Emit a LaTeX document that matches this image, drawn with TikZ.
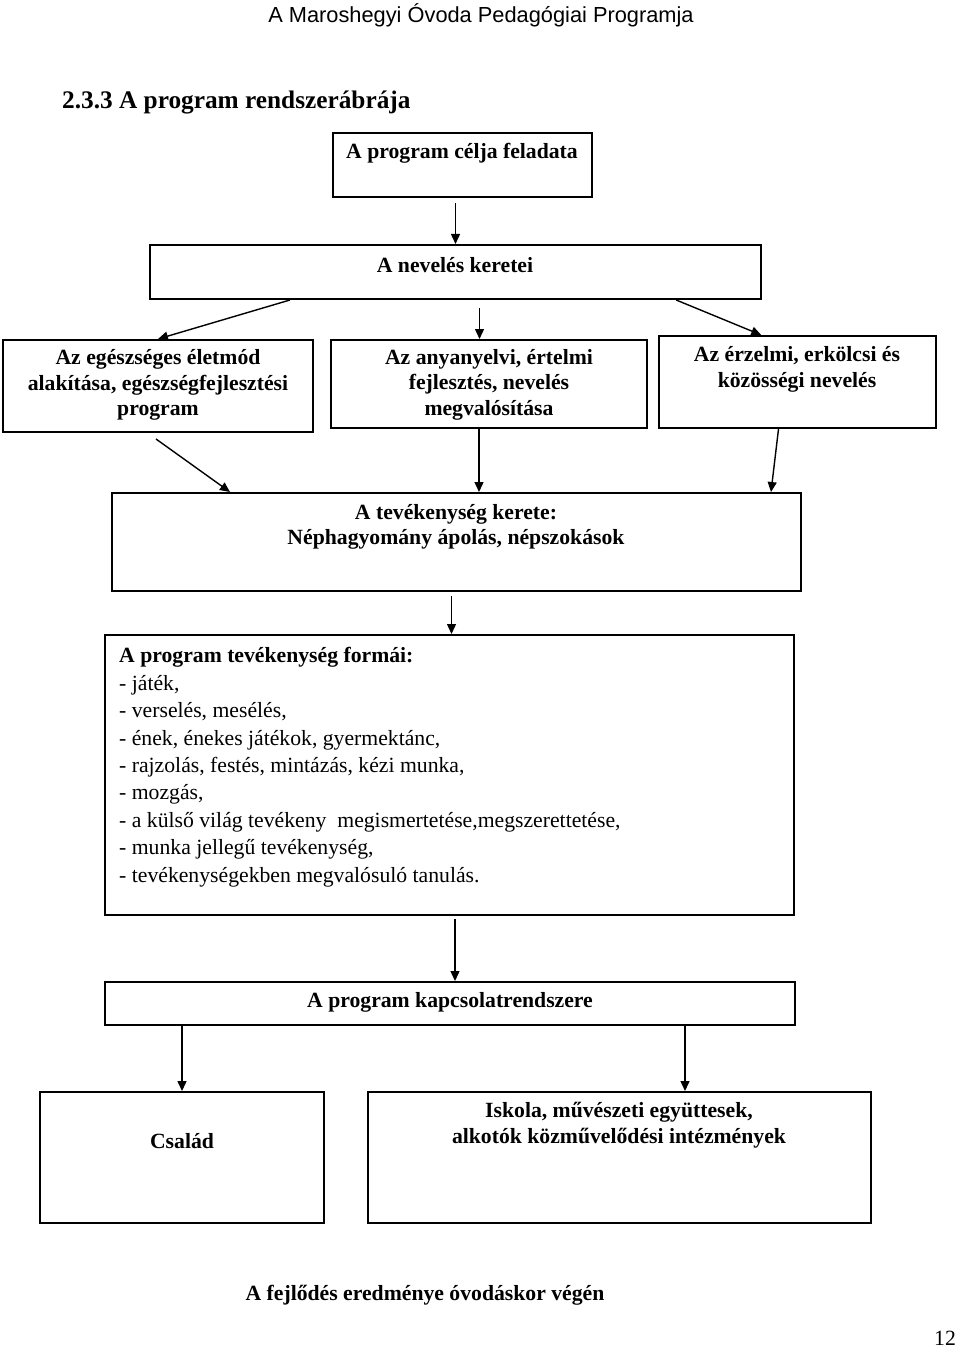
\documentclass[tikz,border=0pt]{standalone}
\usepackage{fontspec}
\setmainfont{Liberation Serif}
\newfontfamily\fejlecbetu{Liberation Sans}
\usetikzlibrary{arrows.meta,calc,positioning}

\tikzset{
  doboz/.style={draw,line width=2pt,inner sep=0pt},
  felirat/.style={font=\fontsize{21.7}{25.5}\selectfont\bfseries,align=center,inner sep=0pt},
  lista/.style={font=\fontsize{21.7}{27.4}\selectfont,align=left,inner sep=0pt},
  nyil/.style={line width=1.4pt,-{Triangle[length=10pt,width=9pt]}}
}

\begin{document}
\begin{tikzpicture}[x=1pt,y=-1pt]
\useasboundingbox[fill=white] (0,0) rectangle (960,1348);

% fejlec
\node[font=\fejlecbetu\fontsize{21.8}{24}\selectfont,inner sep=0pt] (fejlec) at (481,15) {A Maroshegyi Óvoda Pedagógiai Programja};
\node[font=\fontsize{25.3}{28}\selectfont\bfseries,anchor=west,inner sep=0pt] (cim) at (62,103) {2.3.3 A program rendszerábrája};

% dobozok
\node[doboz,minimum width=259,minimum height=64] (cel) at (462.5,165) {};
\node[felirat] (celT) at (462,153) {A program célja feladata};

\node[doboz,minimum width=611,minimum height=54] (ker) at (455.5,272) {};
\node[felirat] (kerT) at (455,265) {A nevelés keretei};

\node[doboz,minimum width=310,minimum height=92] (egesz) at (158,386) {};
\node[felirat] (egeszT) at (158,385) {Az egészséges életmód\\alakítása, egészségfejlesztési\\program};

\node[doboz,minimum width=316,minimum height=88] (any) at (489,384) {};
\node[felirat] (anyT) at (489,384.5) {Az anyanyelvi, értelmi\\fejlesztés, nevelés\\megvalósítása};

\node[doboz,minimum width=277,minimum height=92] (erz) at (797.5,382) {};
\node[felirat] (erzT) at (797,369.5) {Az érzelmi, erkölcsi és\\közösségi nevelés};

\node[doboz,minimum width=689,minimum height=98] (tev) at (456.5,542) {};
\node[felirat] (tevT) at (456,527) {A tevékenység kerete:\\Néphagyomány ápolás, népszokások};

\node[doboz,minimum width=689,minimum height=280] (form) at (449.5,775) {};
\node[lista,anchor=base west] (formT) at (119,882) {\textbf{A program tevékenység formái:}\\
- játék,\\
- verselés, mesélés,\\
- ének, énekes játékok, gyermektánc,\\
- rajzolás, festés, mintázás, kézi munka,\\
- mozgás,\\
- a külső világ tevékeny\ \ megismertetése,megszerettetése,\\
- munka jellegű tevékenység,\\
- tevékenységekben megvalósuló tanulás.};

\node[doboz,minimum width=690,minimum height=43] (kapcs) at (450,1003.5) {};
\node[felirat] (kapcsT) at (450,1002) {A program kapcsolatrendszere};

\node[doboz,minimum width=284,minimum height=131] (csal) at (182,1157.5) {};
\node[felirat] (csalT) at (182,1141) {Család};

\node[doboz,minimum width=503,minimum height=131] (isk) at (619.5,1157.5) {};
\node[felirat] (iskT) at (619,1125) {Iskola, művészeti együttesek,\\alkotók közművelődési intézmények};

\node[felirat] (ered) at (425,1295) {A fejlődés eredménye óvodáskor végén};
\node[font=\fontsize{21.7}{24}\selectfont,inner sep=0pt] (oldal) at (945,1338) {12};

% nyilak
\draw[nyil] ([yshift=-5pt]cel.south -| ker.north) -- (ker.north);

\draw[nyil] ($(ker.south west)!0.23!(ker.south east)$) -- (egesz.north);
\coordinate (k2) at ($(ker.south)+(24,8)$);
\draw[nyil] (k2) -- (k2 |- any.north);
\draw[nyil] ($(ker.south west)!0.86!(ker.south east)$) -- ($(erz.north west)!0.37!(erz.north east)$);

\draw[nyil] ($(egesz.south)+(-2,6)$) -- ($(tev.north west)+(119,0)$);
\coordinate (a2) at ($(any.south)+(-10,0)$);
\draw[nyil] (a2) -- (a2 |- tev.north);
\draw[nyil] ($(erz.south)+(-19,0)$) -- ($(tev.north east)+(-31,0)$);

\coordinate (t2) at ($(tev.south)+(-5,4)$);
\draw[nyil] (t2) -- (t2 |- form.north);
\coordinate (f2) at ($(form.south)+(5.5,3)$);
\draw[nyil] (f2) -- (f2 |- kapcs.north);

\draw[nyil] (csal.north |- kapcs.south) -- (csal.north);
\coordinate (i2) at ($(isk.north)+(65.5,0)$);
\draw[nyil] (i2 |- kapcs.south) -- (i2);
\end{tikzpicture}
\end{document}
